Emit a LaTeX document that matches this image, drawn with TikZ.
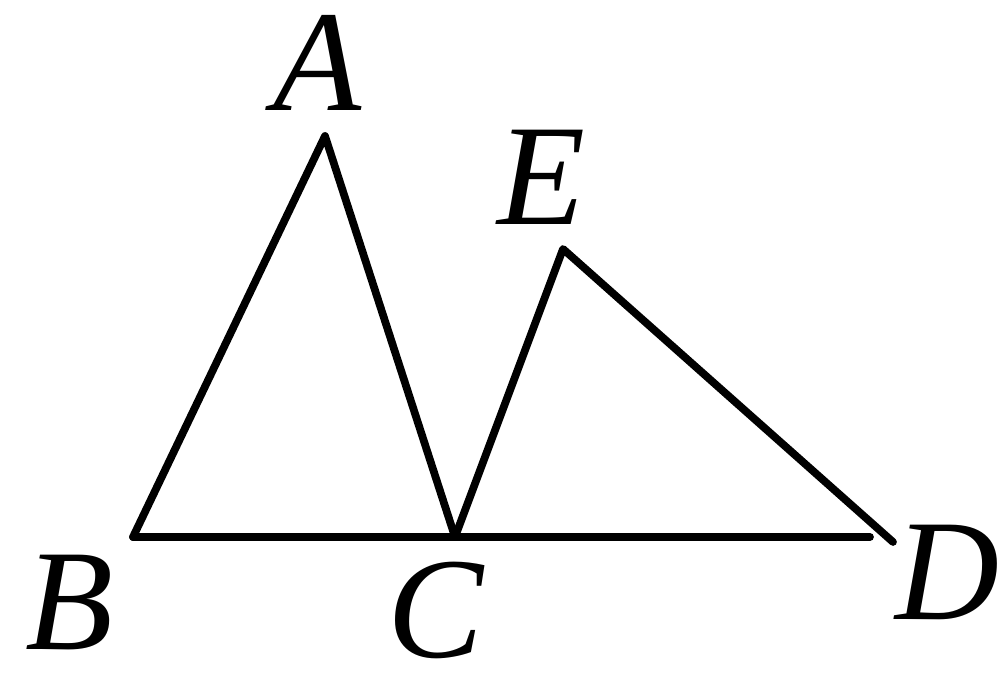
\documentclass[tikz,border=0pt]{standalone}
\usepackage{fontspec}
\setmainfont{Liberation Serif}
\begin{document}
\begin{tikzpicture}[
  edge/.style={line width=2.2pt, line join=round, line cap=round},
  lbl/.style={font=\fontsize{41}{43}\selectfont\itshape, inner sep=0pt}
]
\useasboundingbox (0,0) rectangle (9.99,6.82);

\coordinate (A) at (3.25,5.46);
\coordinate (B) at (1.33,1.45);
\coordinate (C) at (4.55,1.45);
\coordinate (D) at (8.93,1.40);
\coordinate (Dend) at (8.70,1.45);
\coordinate (E) at (5.63,4.33);

\draw[edge] (B) -- (A) -- (C);
\draw[edge] (C) -- (E) -- (D);
\draw[edge] (B) -- (Dend);

\node[lbl] (labelA) at (3.18,6.19) {A};
\node[lbl] (labelE) at (5.42,5.05) {E};
\node[lbl] (labelB) at (0.70,0.79) {B};
\node[lbl] (labelC) at (4.36,0.72) {C};
\node[lbl] (labelD) at (9.48,1.10) {D};

\end{tikzpicture}
\end{document}
